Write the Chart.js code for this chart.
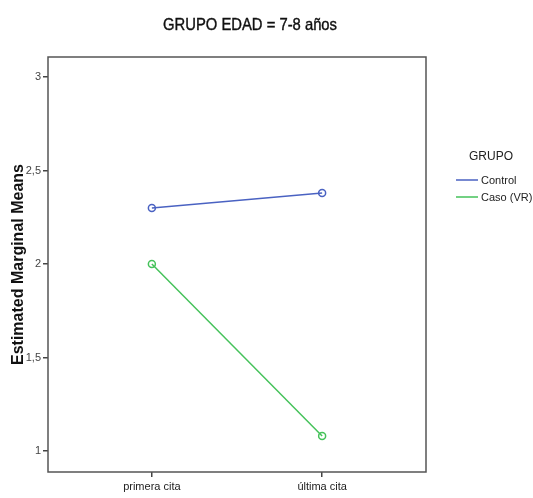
<!DOCTYPE html>
<html>
<head>
<meta charset="utf-8">
<script src="https://cdn.jsdelivr.net/npm/chart.js@4/dist/chart.umd.min.js"></script>
<style>
html,body{margin:0;padding:0;background:#fff;}
#wrap{width:533px;height:498px;position:relative;}
</style>
</head>
<body>
<div id="wrap"><canvas id="c" width="533" height="498"></canvas></div>
<script>
const chartTitle = 'GRUPO EDAD = 7-8 años';
const categories = ['primera cita', 'última cita'];
const seriesNames = ['Control', 'Caso (VR)'];
const controlValues = [2.30, 2.38];
const casoValues = [2.00, 1.08];
const yTickValues = [1, 1.5, 2, 2.5, 3];
const yTickLabels = ['1', '1,5', '2', '2,5', '3'];
const yAxisTitle = 'Estimated Marginal Means';
const legendTitle = 'GRUPO';
const seriesColors = ['#4A62C2', '#45C25A'];

const toPoints = vals => vals.map((v, i) => ({x: i, y: v}));

const framePlugin = {
  id: 'frame',
  afterDraw(chart) {
    const ctx = chart.ctx, a = chart.chartArea;
    ctx.save();
    ctx.strokeStyle = '#555555';
    ctx.lineWidth = 1.5;
    ctx.strokeRect(a.left, a.top, a.right - a.left, a.bottom - a.top);
    // title
    ctx.fillStyle = '#111111';
    ctx.font = '17px "Liberation Sans", Arial, sans-serif';
    ctx.textBaseline = 'middle';
    ctx.textAlign = 'center';
    const w = ctx.measureText(chartTitle).width;
    const target = 174;
    ctx.save();
    ctx.translate(250, 25);
    ctx.scale(target / w, 1);
    ctx.fillText(chartTitle, 0, 0);
    ctx.lineWidth = 0.4;
    ctx.strokeStyle = '#111111';
    ctx.strokeText(chartTitle, 0, 0);
    ctx.restore();
    // legend
    ctx.fillStyle = '#222222';
    ctx.font = '12px "Liberation Sans", Arial, sans-serif';
    ctx.textAlign = 'center';
    ctx.fillText(legendTitle, 491, 157);
    ctx.font = '11px "Liberation Sans", Arial, sans-serif';
    ctx.textAlign = 'left';
    seriesNames.forEach((n, i) => {
      const y = 180 + i * 17;
      ctx.strokeStyle = seriesColors[i];
      ctx.lineWidth = 1.5;
      ctx.beginPath();
      ctx.moveTo(456, y);
      ctx.lineTo(478, y);
      ctx.stroke();
      ctx.fillStyle = '#222222';
      ctx.fillText(n, 481, y + 0.5);
    });
    ctx.restore();
  }
};

new Chart(document.getElementById('c'), {
  type: 'line',
  data: {
    datasets: [
      {label: seriesNames[0], data: toPoints(controlValues), borderColor: seriesColors[0], backgroundColor: 'rgba(0,0,0,0)', borderWidth: 1.5, pointRadius: 3.5, pointBorderWidth: 1.5, pointBackgroundColor: 'rgba(0,0,0,0)', pointBorderColor: seriesColors[0], tension: 0},
      {label: seriesNames[1], data: toPoints(casoValues), borderColor: seriesColors[1], backgroundColor: 'rgba(0,0,0,0)', borderWidth: 1.5, pointRadius: 3.5, pointBorderWidth: 1.5, pointBackgroundColor: 'rgba(0,0,0,0)', pointBorderColor: seriesColors[1], tension: 0}
    ]
  },
  options: {
    responsive: false,
    animation: false,
    events: [],
    layout: {padding: {top: 57, right: 107, left: 0, bottom: 0}},
    plugins: {legend: {display: false}, title: {display: false}, tooltip: {enabled: false}},
    scales: {
      x: {
        type: 'linear',
        min: -0.61,
        max: 1.61,
        afterBuildTicks: s => { s.ticks = categories.map((c, i) => ({value: i})); },
        afterFit: s => { s.height = 26; },
        border: {display: false},
        grid: {display: true, drawOnChartArea: false, drawTicks: true, tickLength: 5, color: '#444444', lineWidth: 1.5},
        ticks: {padding: 3, color: '#222222', font: {family: '"Liberation Sans", Arial, sans-serif', size: 11}, maxRotation: 0, autoSkip: false,
          callback: v => categories[Math.round(v)]}
      },
      y: {
        type: 'linear',
        min: 0.888,
        max: 3.107,
        afterBuildTicks: s => { s.ticks = yTickValues.map(v => ({value: v})); },
        afterFit: s => { s.width = 48; },
        border: {display: false},
        grid: {display: true, drawOnChartArea: false, drawTicks: true, tickLength: 5, color: '#444444', lineWidth: 1.5},
        ticks: {padding: 2, color: '#444444', font: {family: '"Liberation Sans", Arial, sans-serif', size: 11}, autoSkip: false,
          callback: v => yTickLabels[yTickValues.indexOf(v)]},
        title: {display: true, text: yAxisTitle, color: '#111111', font: {family: '"Liberation Sans", Arial, sans-serif', size: 16, weight: 'bold'}, padding: {top: 9, bottom: 0}}
      }
    }
  },
  plugins: [framePlugin]
});
</script>
</body>
</html>
